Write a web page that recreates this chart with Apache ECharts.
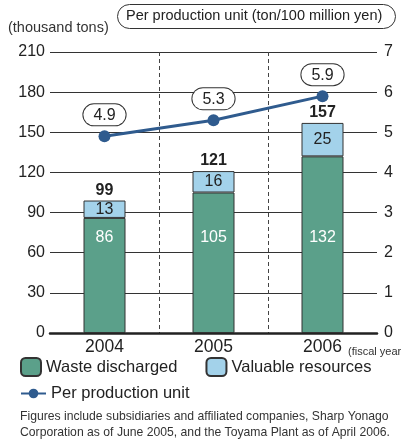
<!DOCTYPE html>
<html>
<head>
<meta charset="utf-8">
<script src="https://cdn.jsdelivr.net/npm/echarts@6/dist/echarts.min.js"></script>
<style>
  html, body { margin: 0; padding: 0; background: #fff; }
  #chart { width: 406px; height: 441px; }
</style>
</head>
<body>
<div id="chart"></div>
<script>
// data
const years = ['2004', '2005', '2006']
const wasteDischarged = [86, 105, 132]
const valuableResources = [13, 16, 25]
const totals = [99, 121, 157]
const perUnit = [4.9, 5.3, 5.9]

const FONT = '"Liberation Sans", Arial, sans-serif'
const GREEN = '#5ba08a'
const BLUE = '#a3d2ea'
const LINE = '#2f5b8e'

const chart = echarts.init(document.getElementById('chart'))

const option = {
  animation: false,
  textStyle: { fontFamily: FONT },
  grid: { left: 50, right: 29, top: 52, bottom: 108 },
  legend: [
    {
      left: 15, top: 352,
      itemWidth: 20, itemHeight: 18, itemGap: 28,
      textStyle: { fontSize: 16.5, color: '#222', fontFamily: FONT },
      data: ['Waste discharged', 'Valuable resources']
    },
    {
      left: 15, top: 380,
      itemWidth: 25, itemHeight: 12,
      textStyle: { fontSize: 16.5, color: '#222', fontFamily: FONT },
      data: ['Per production unit']
    }
  ],
  xAxis: {
    type: 'category',
    data: years,
    axisLine: { lineStyle: { color: '#222', width: 2.5 } },
    axisTick: { show: false },
    axisLabel: { fontSize: 17.5, color: '#222', margin: 5, fontFamily: FONT },
    splitLine: {
      show: true,
      showMinLine: false,
      showMaxLine: false,
      lineStyle: { type: [4, 3], color: '#444', width: 1 }
    }
  },
  yAxis: [
    {
      type: 'value', min: 0, max: 210, interval: 30,
      axisLine: { show: false },
      axisTick: { show: false },
      axisLabel: { fontSize: 16, color: '#222', margin: 5, fontFamily: FONT },
      splitLine: { lineStyle: { color: '#333', width: 1.2 } }
    },
    {
      type: 'value', min: 0, max: 7, interval: 1,
      axisLine: { show: false },
      axisTick: { show: false },
      axisLabel: { fontSize: 16, color: '#222', margin: 7, fontFamily: FONT },
      splitLine: { show: false }
    }
  ],
  series: [
    {
      name: 'Waste discharged',
      type: 'bar',
      stack: 'total',
      barWidth: 42,
      data: wasteDischarged,
      itemStyle: { color: GREEN, borderColor: '#333', borderWidth: 1 },
      label: {
        show: true, position: 'insideBottom', distance: 87,
        color: '#fff', fontSize: 16, fontFamily: FONT
      }
    },
    {
      name: 'Valuable resources',
      type: 'bar',
      stack: 'total',
      data: valuableResources,
      itemStyle: { color: BLUE, borderColor: '#333', borderWidth: 1 },
      label: {
        show: true, position: 'inside',
        color: '#222', fontSize: 16, fontFamily: FONT
      }
    },
    {
      name: 'total',
      type: 'bar',
      stack: 'total',
      data: years.map(() => 0),
      itemStyle: { color: 'transparent' },
      label: {
        show: true, position: 'top', distance: 2,
        formatter: p => totals[p.dataIndex],
        color: '#222', fontSize: 16, fontWeight: 'bold', fontFamily: FONT
      }
    },
    {
      name: 'Per production unit',
      type: 'line',
      yAxisIndex: 1,
      data: perUnit,
      symbol: 'circle',
      symbolSize: 12,
      lineStyle: { color: LINE, width: 3 },
      itemStyle: { color: LINE },
      label: {
        show: true, position: 'top', distance: 5,
        formatter: p => p.value.toFixed(1),
        color: '#222', fontSize: 16, fontFamily: FONT,
        backgroundColor: '#fff',
        borderColor: '#333', borderWidth: 1, borderRadius: 11,
        padding: [3, 10, 2, 10]
      },
      z: 5
    }
  ],
  graphic: [
    {
      type: 'text', left: 8, top: 20,
      style: { text: '(thousand tons)', fontSize: 14.5, fill: '#333', fontFamily: FONT }
    },
    {
      type: 'rect', left: 117, top: 4,
      shape: { width: 278, height: 24, r: 12 },
      style: { fill: '#fff', stroke: '#333', lineWidth: 1 }
    },
    {
      type: 'text', left: 126, top: 8,
      style: { text: 'Per production unit (ton/100 million yen)', fontSize: 14.5, fill: '#222', fontFamily: FONT }
    },
    {
      type: 'text', left: 348, top: 346,
      style: { text: '(fiscal year', fontSize: 11, fill: '#333', fontFamily: FONT }
    },
    {
      type: 'text', left: 20, top: 408,
      style: {
        text: 'Figures include subsidiaries and affiliated companies, Sharp Yonago\nCorporation as of June 2005, and the Toyama Plant as of April 2006.',
        fontSize: 12.2, lineHeight: 16.5, fill: '#333', fontFamily: FONT
      }
    }
  ]
}

chart.setOption(option)
</script>
</body>
</html>
